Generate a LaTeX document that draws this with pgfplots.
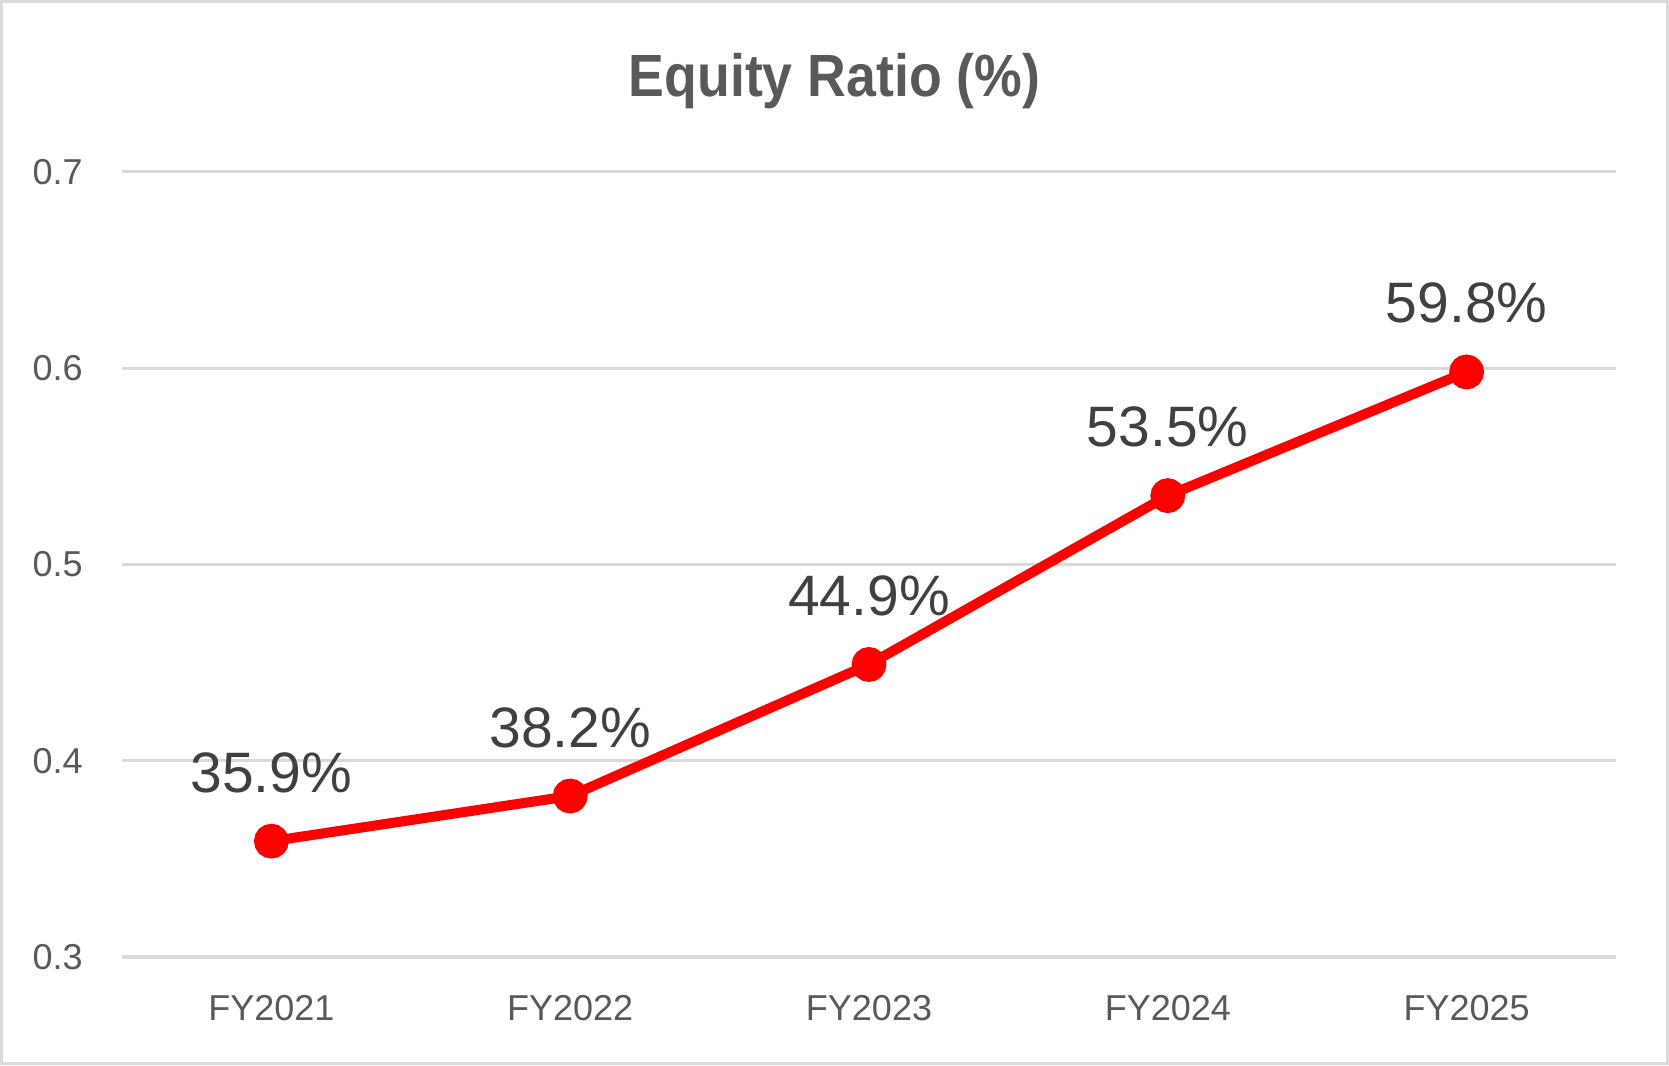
\documentclass[border=0pt]{standalone}
\usepackage{pgfplots}
\pgfplotsset{compat=1.18}
\usepackage{fontspec}
\setmainfont{Liberation Sans}
\definecolor{tickgray}{HTML}{595959}
\definecolor{labelgray}{HTML}{404040}
\definecolor{gridgray}{HTML}{D9D9D9}
\definecolor{linered}{HTML}{FF0000}
\begin{document}
\begin{tikzpicture}
\useasboundingbox (0,0) rectangle (834.5pt,532.5pt);
\fill[white] (0,0) rectangle (834.5pt,532.5pt);
\draw[gridgray, line width=1.5pt] (0.75pt,0.75pt) rectangle (833.75pt,531.75pt);
\node[anchor=base, text=tickgray, inner sep=0pt] at (417.25pt,484pt)
  {\scalebox{0.9}[1]{\fontsize{29.8}{32}\selectfont\bfseries Equity Ratio (\%)}};
\begin{axis}[
  at={(61pt,54pt)}, anchor=south west,
  scale only axis, width=747pt, height=392.65pt,
  xmin=-0.5, xmax=4.5, ymin=0.3, ymax=0.7,
  ytick={0.3,0.4,0.5,0.6,0.7},
  xtick={0,1,2,3,4},
  xticklabels={FY2021,FY2022,FY2023,FY2024,FY2025},
  axis line style={draw=none},
  major tick length=0pt,
  ymajorgrids, grid style={gridgray, line width=1.5pt},
  /pgf/number format/assume math mode=true,
  yticklabel style={/pgf/number format/fixed, /pgf/number format/precision=1,
    font=\fontsize{18}{20}\selectfont, text=tickgray, inner sep=0pt, anchor=east, xshift=-19.5pt},
  xticklabel style={font=\fontsize{18}{20}\selectfont, text=tickgray, inner sep=0pt, anchor=north, yshift=-19pt},
  clip=false,
]
\addplot[linered, line width=5pt, mark=*, mark size=6.2pt, mark options={draw=none, fill=linered},
  point meta=explicit symbolic,
  nodes near coords={\pgfplotspointmeta\%},
  every node near coord/.append style={anchor=base, yshift=24.5pt, inner sep=0pt,
    font=\fontsize{28.5}{30}\selectfont, text=labelgray}]
  coordinates {(0,0.359) [35.9] (1,0.382) [38.2] (2,0.449) [44.9] (3,0.535) [53.5] (4,0.598) [59.8]};
\end{axis}
\end{tikzpicture}
\end{document}
